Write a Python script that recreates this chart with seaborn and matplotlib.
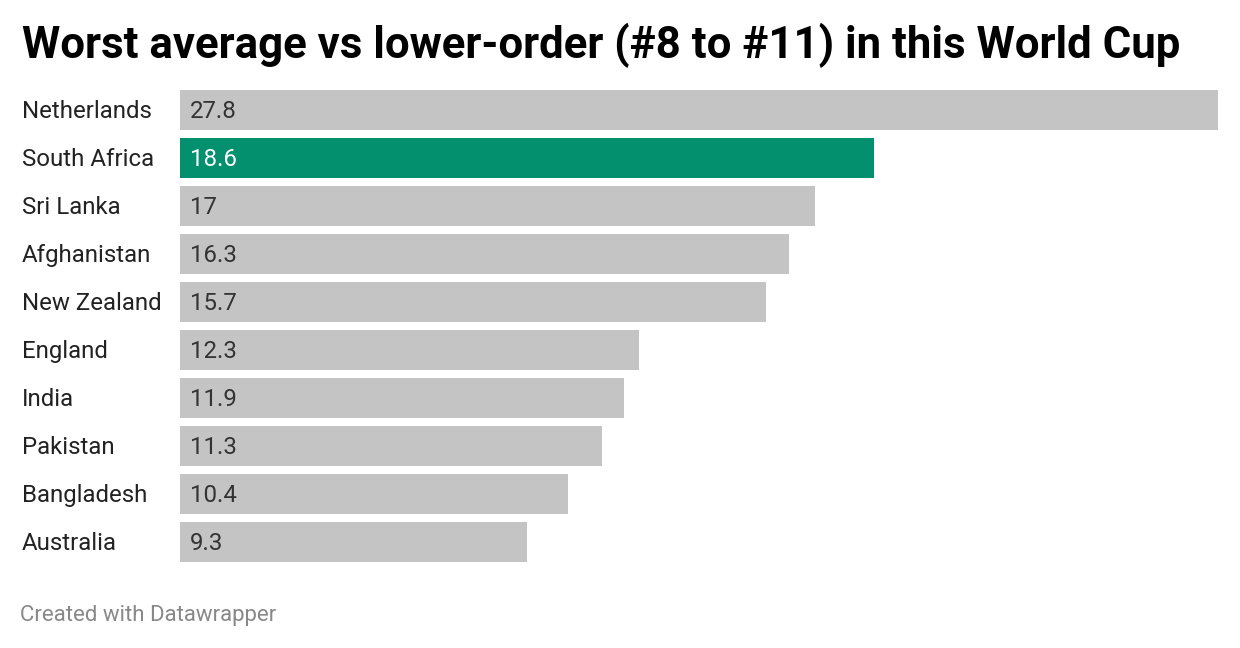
import matplotlib
matplotlib.use("Agg")
import matplotlib.pyplot as plt
import matplotlib.transforms as mtransforms
import seaborn as sns
import pandas as pd

countries = ["Netherlands", "South Africa", "Sri Lanka", "Afghanistan", "New Zealand",
             "England", "India", "Pakistan", "Bangladesh", "Australia"]
averages = [27.8, 18.6, 17, 16.3, 15.7, 12.3, 11.9, 11.3, 10.4, 9.3]
labels = ["27.8", "18.6", "17", "16.3", "15.7", "12.3", "11.9", "11.3", "10.4", "9.3"]
highlight = "South Africa"

sns.set_theme(style="white")
plt.rcParams["font.family"] = ["Roboto", "DejaVu Sans"]

GRAY = "#c4c4c4"
GREEN = "#03906f"

df = pd.DataFrame({"country": countries, "avg": averages})
palette = {c: (GREEN if c == highlight else GRAY) for c in countries}

W, H = 1240, 648
fig = plt.figure(figsize=(W / 100, H / 100), dpi=100)
fig.patch.set_facecolor("white")
ax = fig.add_axes([180 / W, 1 - 566 / H, (1218 - 180) / W, (566 - 86) / H])

sns.barplot(data=df, y="country", x="avg", hue="country", palette=palette,
            legend=False, ax=ax, width=40 / 48, saturation=1, order=countries,
            linewidth=0, edgecolor="none")

ax.set_xlim(0, max(averages))
ax.set_ylim(len(countries) - 0.5, -0.5)
ax.set_xlabel("")
ax.set_ylabel("")
ax.set_xticks([])
ax.set_yticks([])
for s in ax.spines.values():
    s.set_visible(False)
ax.set_facecolor("none")

blend = mtransforms.blended_transform_factory(fig.transFigure, ax.transData)
blend_up = mtransforms.offset_copy(blend, fig=fig, x=0, y=1, units="dots")
off = mtransforms.offset_copy(ax.transData, fig=fig, x=10, y=1, units="dots")
for i, (c, lab) in enumerate(zip(countries, labels)):
    ax.text(22 / W, i, c, transform=blend_up, ha="left", va="center_baseline",
            fontsize=17.3, color="#222222")
    ax.text(0, i, lab, transform=off, ha="left", va="center_baseline",
            fontsize=17.3, color="white" if c == highlight else "#333333")

fig.text(22 / W, 1 - 58 / H, "Worst average vs lower-order (#8 to #11) in this World Cup",
         ha="left", va="baseline", fontsize=31.5, fontweight="bold", color="#000000")
fig.text(20 / W, 1 - 621 / H, "Created with Datawrapper", ha="left", va="baseline",
         fontsize=16, color="#888888")

fig.savefig("out.png", dpi=100, facecolor="white")
